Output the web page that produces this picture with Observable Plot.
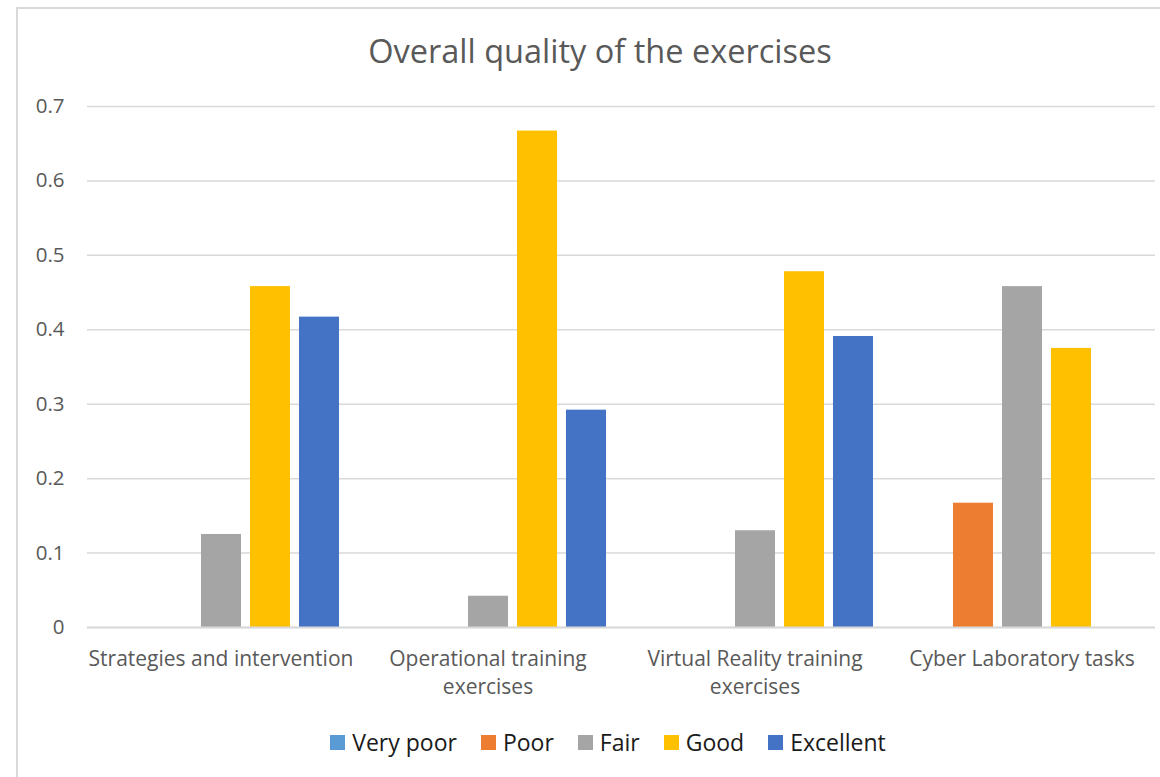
<!DOCTYPE html>
<html>
<head>
<meta charset="utf-8">
<script src="https://cdn.jsdelivr.net/npm/d3@7"></script>
<script src="https://cdn.jsdelivr.net/npm/@observablehq/plot@0.6"></script>
<style>
  html, body { margin: 0; padding: 0; background: #fff; width: 1160px; height: 777px; overflow: hidden; }
  body { position: relative; font-family: "Open Sans", Lato, "Liberation Sans", sans-serif; }
  #frame { position: absolute; left: 16px; top: 7px; width: 1200px; height: 820px; border: 2px solid #d9d9d9; box-sizing: border-box; }
  #title { position: absolute; left: 0; top: 31px; width: 1200px; text-align: center; font-size: 32.5px; line-height: 40px; color: #595959; }
  #chart { position: absolute; left: 0; top: 90px; }
  #legend { position: absolute; left: 0; top: 727px; width: 1216px; display: flex; justify-content: center; gap: 24px; font-size: 23px; line-height: 30px; color: #1a1a1a; }
  #legend .item { display: flex; align-items: center; gap: 7px; }
  #legend .sw { width: 15px; height: 15px; display: inline-block; }
</style>
</head>
<body>
<div id="frame"></div>
<div id="title">Overall quality of the exercises</div>
<div id="chart"></div>
<div id="legend"></div>
<script>
// Categories, rating levels and the share of answers for each rating
const categories = [
  "Strategies and intervention",
  "Operational training exercises",
  "Virtual Reality training exercises",
  "Cyber Laboratory tasks"
];
const categoryLabels = [
  "Strategies and intervention",
  "Operational training\nexercises",
  "Virtual Reality training\nexercises",
  "Cyber Laboratory tasks"
];
const ratings = ["Very poor", "Poor", "Fair", "Good", "Excellent"];
const ratingColors = ["#5B9BD5", "#ED7D31", "#A5A5A5", "#FFC000", "#4472C4"];

const veryPoor  = [0, 0, 0, 0];
const poor      = [0, 0, 0, 0.167];
const fair      = [0.125, 0.042, 0.130, 0.458];
const good      = [0.458, 0.667, 0.478, 0.375];
const excellent = [0.417, 0.292, 0.391, 0];

const yTicks = [0, 0.1, 0.2, 0.3, 0.4, 0.5, 0.6, 0.7];

// Long-format rows for the grouped bars
const series = [veryPoor, poor, fair, good, excellent];
const rows = [];
categories.forEach((c, i) => {
  ratings.forEach((r, j) => rows.push({category: c, rating: r, value: series[j][i]}));
});
const labelOf = new Map(categories.map((c, i) => [c, categoryLabels[i]]));

const chart = Plot.plot({
  width: 1160,
  height: 617,
  marginTop: 16,
  marginBottom: 80,
  marginLeft: 86,
  marginRight: 5,
  style: {fontFamily: "'Open Sans', Lato, sans-serif", fontSize: "20px", color: "#595959", background: "transparent"},
  fx: {domain: categories, padding: 0, label: null},
  x: {domain: ratings, paddingInner: 0.19, paddingOuter: 0.3, axis: null},
  y: {domain: [0, 0.7], label: null},
  color: {domain: ratings, range: ratingColors},
  marks: [
    Plot.gridY(yTicks, {stroke: "#d9d9d9", strokeOpacity: 1, strokeWidth: 1.5}),
    Plot.barY(rows, {fx: "category", x: "rating", y: "value", fill: "rating"}),
    Plot.ruleY([0], {stroke: "#d9d9d9", strokeWidth: 2}),
    Plot.axisY(yTicks, {tickSize: 0, tickPadding: 23, fontSize: 20.5, fill: "#595959",
      tickFormat: d => String(+d.toFixed(1)), label: null}),
    Plot.axisFx({anchor: "bottom", tickSize: 0, tickPadding: 19, fontSize: 21, fill: "#595959", lineHeight: 1.33,
      tickFormat: d => labelOf.get(d), label: null})
  ]
});
document.getElementById("chart").appendChild(chart);

// Legend built from the same rating list and colors
const legend = document.getElementById("legend");
ratings.forEach((r, i) => {
  const item = document.createElement("span");
  item.className = "item";
  const sw = document.createElement("span");
  sw.className = "sw";
  sw.style.background = ratingColors[i];
  const tx = document.createElement("span");
  tx.textContent = r;
  item.appendChild(sw);
  item.appendChild(tx);
  legend.appendChild(item);
});
</script>
</body>
</html>
